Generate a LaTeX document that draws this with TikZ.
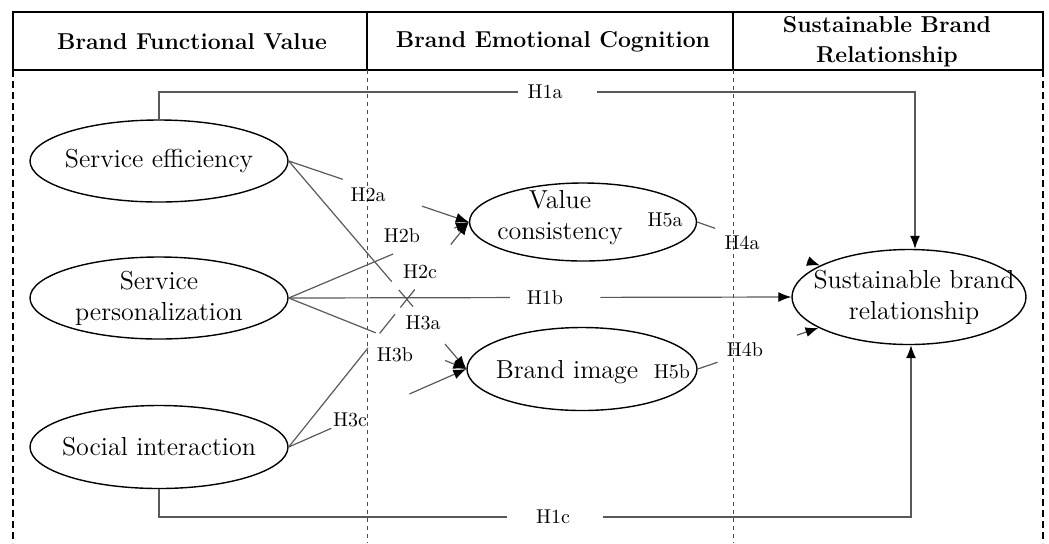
\documentclass[tikz,border=0pt]{standalone}
\usetikzlibrary{shapes.geometric,arrows.meta,calc}
\begin{document}
\begin{tikzpicture}[x=0.5pt, y=-0.5pt,
    construct/.style={ellipse, draw, line width=0.7pt, inner sep=0pt},
    name text/.style={align=center, font=\fontsize{13}{15.5}\selectfont},
    head/.style={align=center, font=\fontsize{11.5}{15}\selectfont\bfseries},
    hyp/.style={font=\fontsize{10}{12}\selectfont, inner sep=1pt},
    link/.style={draw=black!65, line width=0.6pt},
    >={Latex[length=6.5pt,width=5pt,color=black]}]
    \useasboundingbox (0,0) rectangle (1049,543);
    \draw[line width=0.8pt] (13,12) rectangle (1043,70);
    \draw[line width=0.8pt] (367,12) -- (367,70);
    \draw[line width=0.8pt] (733,12) -- (733,70);
    \node[head] (hfv) at (192,42) {Brand Functional Value};
    \node[head] (hec) at (553,42) {Brand Emotional Cognition};
    \node[head] (hsr) at (887,42) {Sustainable Brand\\Relationship};
    \draw[dash pattern=on 3.5pt off 2pt, line width=0.6pt] (13,70) -- (13,543);
    \draw[dash pattern=on 3.5pt off 2pt, line width=0.6pt] (1043,70) -- (1043,543);
    \draw[dash pattern=on 2pt off 2pt, line width=0.4pt, black!70] (367,70) -- (367,543);
    \draw[dash pattern=on 2pt off 2pt, line width=0.4pt, black!70] (733,70) -- (733,543);
    \node[construct, minimum width=129pt, minimum height=41pt] (se) at (159,161) {};
    \node[construct, minimum width=129pt, minimum height=41pt] (sp) at (159,298) {};
    \node[construct, minimum width=129pt, minimum height=41.5pt] (si) at (159,447) {};
    \node[construct, minimum width=113.5pt, minimum height=39pt] (vc) at (583,222) {};
    \node[construct, minimum width=115pt, minimum height=41.5pt] (bi) at (582,369) {};
    \node[construct, minimum width=117pt, minimum height=47.5pt] (sbr) at (909,297) {};
    \node[name text] (setext) at (se) {Service efficiency};
    \node[name text] (sptext) at (sp) {Service\\personalization};
    \node[name text] (sitext) at (si) {Social interaction};
    \node[name text] (vctext) at (560,218) {Value\\consistency};
    \node[name text] (bitext) at (567,372) {Brand image};
    \node[name text] (sbrtext) at (914,297) {Sustainable brand\\relationship};
    \coordinate (h1aL) at (518,92);
    \coordinate (h1aR) at (597,92);
    \coordinate (h1cL) at (507,517);
    \coordinate (h1cR) at (603,517);
    \draw[link] (se.north) |- (h1aL);
    \draw[link,->] (h1aR) -| ([xshift=3pt]sbr.north);
    \draw[link] (si.south) |- (h1cL);
    \draw[link,->] (h1cR) -| ([xshift=1pt]sbr.south);
    \draw[link] (sp.east) -- ($(sp.east)!0.44!(sbr.west)$);
    \draw[link,->] ($(sp.east)!0.62!(sbr.west)$) -- (sbr.west);
    \draw[link] (se.east) -- ($(se.east)!0.30!(vc.west)$);
    \draw[link,->] ($(se.east)!0.74!(vc.west)$) -- (vc.west);
    \draw[link] (se.east) -- ($(se.east)!0.58!(bi.west)$);
    \draw[link] ($(se.east)!0.62!(bi.west)$) -- ($(se.east)!0.70!(bi.west)$);
    \draw[link,->] ($(se.east)!0.88!(bi.west)$) -- (bi.west);
    \draw[link] (sp.east) -- ($(sp.east)!0.58!(vc.west)$);
    \draw[link,->] ($(sp.east)!0.92!(vc.west)$) -- (vc.west);
    \draw[link] (sp.east) -- ($(sp.east)!0.49!(bi.west)$);
    \draw[link,->] ($(sp.east)!0.88!(bi.west)$) -- (bi.west);
    \draw[link] (si.east) -- ($(si.east)!0.44!(vc.west)$);
    \draw[link] ($(si.east)!0.505!(vc.west)$) -- ($(si.east)!0.59!(vc.west)$);
    \draw[link] ($(si.east)!0.62!(vc.west)$) -- ($(si.east)!0.70!(vc.west)$);
    \draw[link,->] ($(si.east)!0.90!(vc.west)$) -- (vc.west);
    \draw[link] (si.east) -- ($(si.east)!0.24!(bi.west)$);
    \draw[link,->] ($(si.east)!0.68!(bi.west)$) -- (bi.west);
    \draw[link] (vc.east) -- ($(vc.east)!0.085!(sbr.center)$);
    \draw[link,->] ($(vc.east)!0.52!(sbr.center)$) -- (sbr);
    \draw[link] (bi.east) -- ($(bi.east)!0.094!(sbr.center)$);
    \draw[link,->] ($(bi.east)!0.47!(sbr.center)$) -- (sbr);
    \node[hyp] (h1a) at (545,92) {H1a};
    \node[hyp] (h1b) at (545,298) {H1b};
    \node[hyp] (h1c) at (553,517) {H1c};
    \node[hyp] (h2a) at (368,195) {H2a};
    \node[hyp] (h2b) at (402,236) {H2b};
    \node[hyp] (h2c) at (420,272) {H2c};
    \node[hyp] (h3a) at (423,323) {H3a};
    \node[hyp] (h3b) at (395,355) {H3b};
    \node[hyp] (h3c) at (350,420) {H3c};
    \node[hyp] (h4a) at (742,243) {H4a};
    \node[hyp] (h4b) at (745,350) {H4b};
    \node[hyp] (h5a) at (665,220) {H5a};
    \node[hyp] (h5b) at (672,372) {H5b};
\end{tikzpicture}
\end{document}
